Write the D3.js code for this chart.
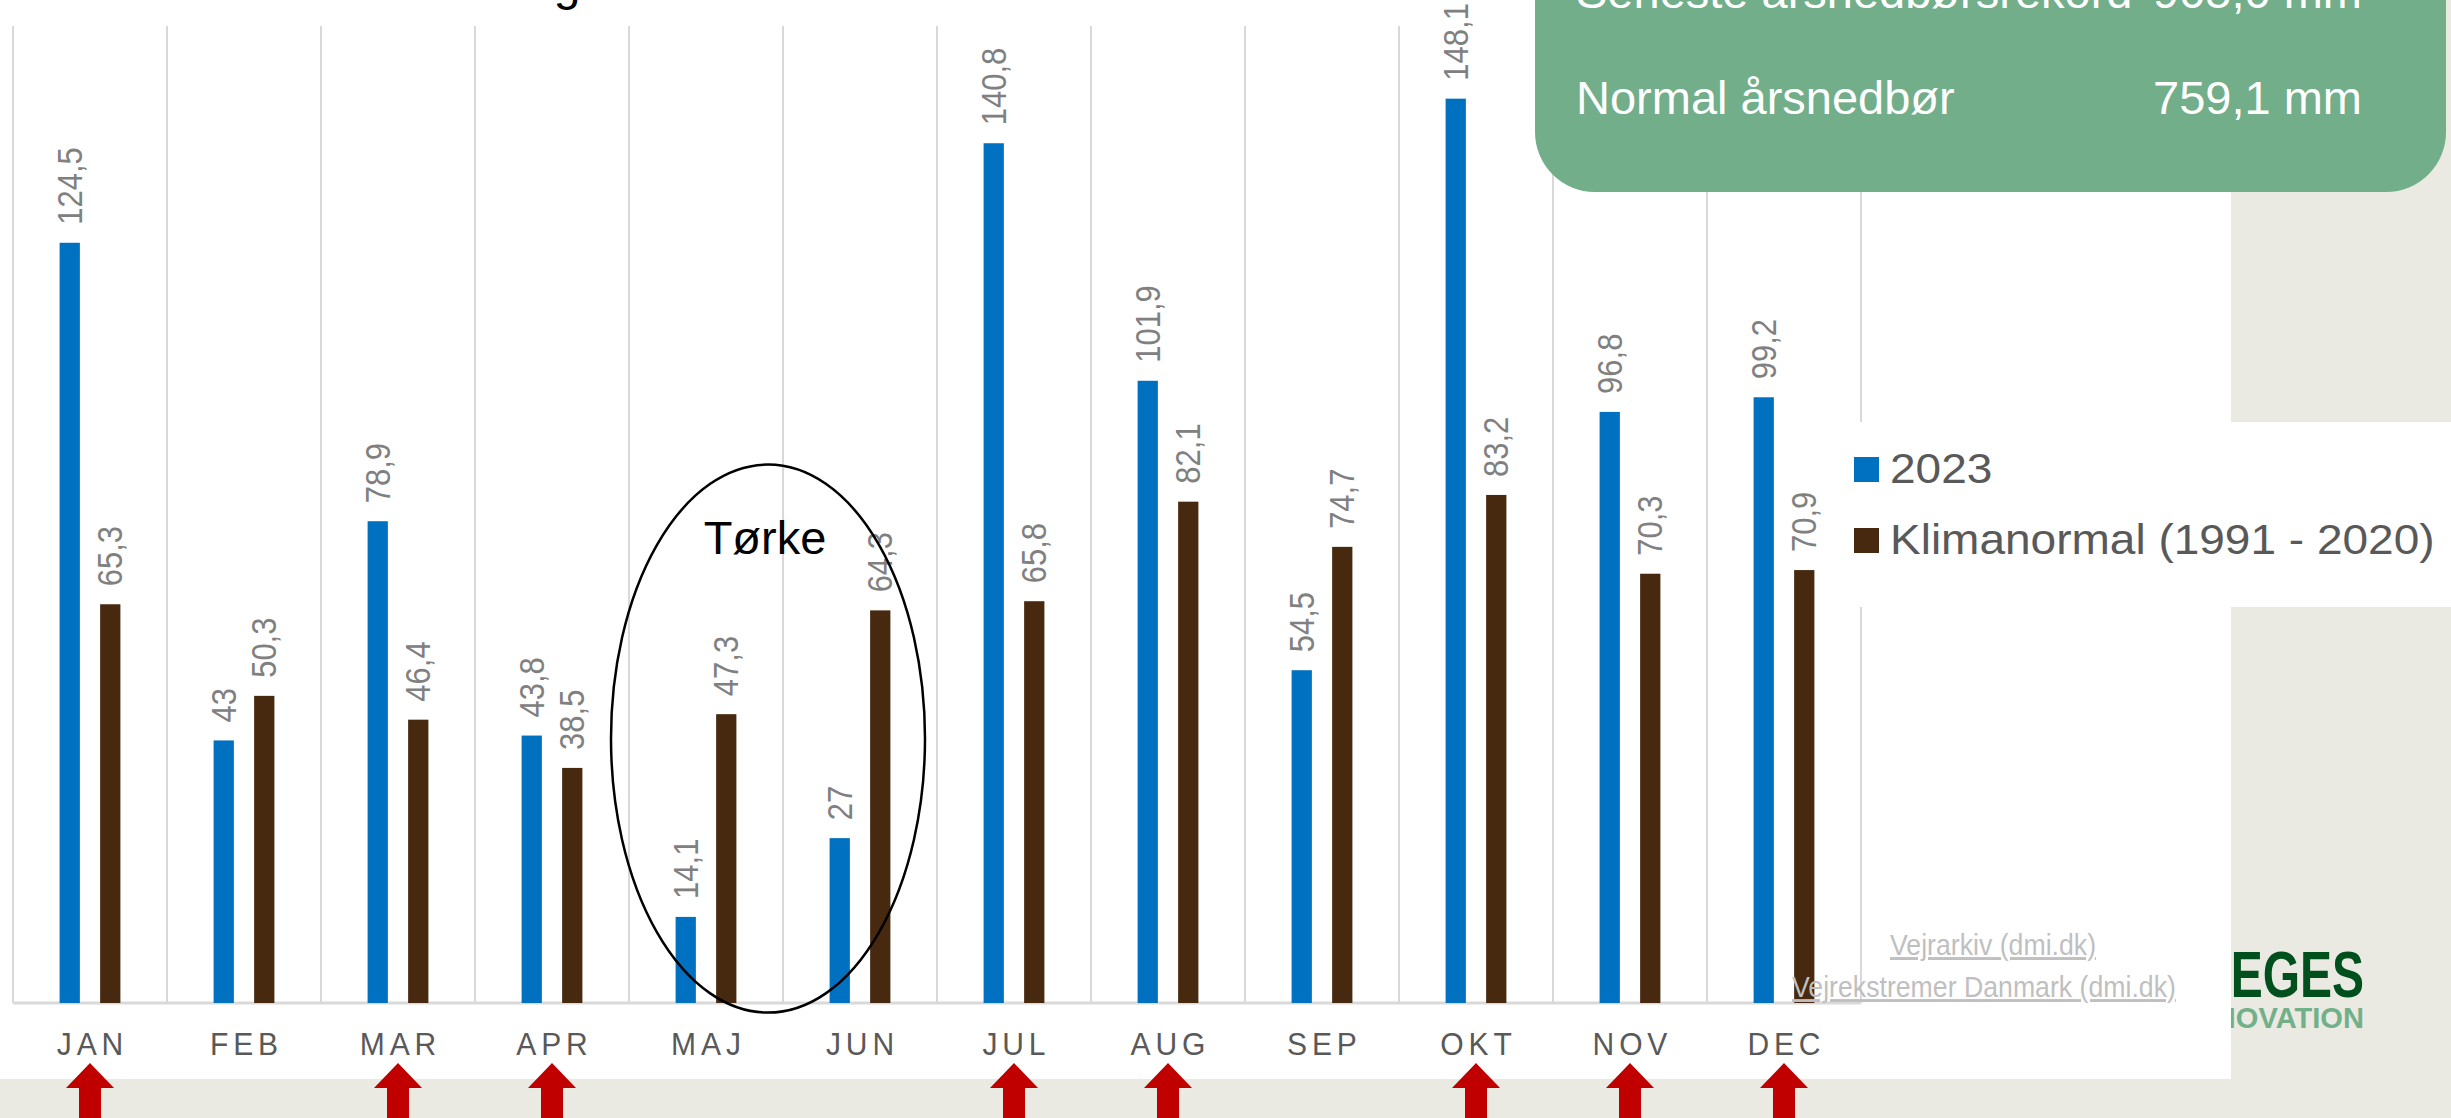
<!DOCTYPE html>
<html>
<head>
<meta charset="utf-8">
<script src="https://cdn.jsdelivr.net/npm/d3@7"></script>
<style>
  html, body { margin: 0; padding: 0; background: #EAE9E2; overflow: hidden; }
  svg { display: block; font-family: "Liberation Sans", Arial, sans-serif; }
</style>
</head>
<body>
<svg id="chart" width="2451" height="1118"></svg>
<script>
// ---------- data ----------
const months = ["JAN","FEB","MAR","APR","MAJ","JUN","JUL","AUG","SEP","OKT","NOV","DEC"];
const seriesNames = ["2023", "Klimanormal (1991 - 2020)"];
const values2023 = [124.5, 43, 78.9, 43.8, 14.1, 27, 140.8, 101.9, 54.5, 148.1, 96.8, 99.2];
const valuesNormal = [65.3, 50.3, 46.4, 38.5, 47.3, 64.3, 65.8, 82.1, 74.7, 83.2, 70.3, 70.9];
const seriesColors = ["#0070C0", "#47290F"];
const infoLabels = ["Seneste årsnedbørsrekord", "Normal årsnedbør"];
const infoValues = ["905,0 mm", "759,1 mm"];
const linkTexts = ["Vejrarkiv (dmi.dk)", "Vejrekstremer Danmark (dmi.dk)"];
const droughtMonths = ["MAJ", "JUN"];
const annotationText = "Tørke";

// ---------- setup ----------
const W = 2451, H = 1118;
const svg = d3.select("#chart");
const fmt = v => String(v).replace(".", ",");

// background
svg.append("rect").attr("width", W).attr("height", H).attr("fill", "#EAE9E2");

// logo (partly hidden behind the white panel)
const logo = svg.append("g");
logo.append("text").attr("transform", "translate(2364,997) scale(0.75,1)")
  .attr("text-anchor", "end").attr("font-size", 64).attr("font-weight", "bold")
  .attr("fill", "#00501E").text("SEGES");
logo.append("text").attr("transform", "translate(2364,1028) scale(0.97,1)")
  .attr("text-anchor", "end").attr("font-size", 30).attr("font-weight", "bold")
  .attr("fill", "#72B08A").text("INNOVATION");

// white panel
svg.append("rect").attr("x", 0).attr("y", 0).attr("width", 2231).attr("height", 1079).attr("fill", "#ffffff");

// scales
const x = d3.scaleBand().domain(months).range([13, 1861]).padding(0);
const x1 = d3.scaleBand().domain(seriesNames).range([0, x.bandwidth()]).paddingInner(0.5).paddingOuter(1.15);
const y = d3.scaleLinear().domain([0, 160]).range([1003, 26]);

// gridlines at category boundaries
const bounds = months.map(m => x(m)).concat([x(months[months.length - 1]) + x.bandwidth()]);
svg.append("g").selectAll("line").data(bounds).join("line")
  .attr("x1", d => d).attr("x2", d => d)
  .attr("y1", y.range()[1]).attr("y2", y(0))
  .attr("stroke", "#D9D9D9").attr("stroke-width", 2);

// baseline
svg.append("line").attr("x1", x.range()[0]).attr("x2", x.range()[1])
  .attr("y1", y(0)).attr("y2", y(0)).attr("stroke", "#D9D9D9").attr("stroke-width", 3);

// bars
const rows = months.map((m, i) => ({ m, vals: [values2023[i], valuesNormal[i]] }));
const groups = svg.append("g").selectAll("g").data(rows).join("g")
  .attr("transform", d => `translate(${x(d.m)},0)`);
groups.selectAll("rect").data(d => d.vals.map((v, k) => ({ v, k }))).join("rect")
  .attr("x", d => x1(seriesNames[d.k]))
  .attr("width", x1.bandwidth())
  .attr("y", d => y(d.v))
  .attr("height", d => y(0) - y(d.v))
  .attr("fill", d => seriesColors[d.k]);

// value labels (rotated)
groups.selectAll("text").data(d => d.vals.map((v, k) => ({ v, k }))).join("text")
  .attr("transform", d => `translate(${x1(seriesNames[d.k]) + x1.bandwidth() / 2},${y(d.v) - 18}) rotate(-90) scale(1,1.13)`)
  .attr("dominant-baseline", "central")
  .attr("font-size", 31).attr("fill", "#808080")
  .text(d => fmt(d.v));

// category axis
const xAxis = d3.axisBottom(x).tickSize(0).tickPadding(0);
const ax = svg.append("g").attr("transform", `translate(0,${y(0)})`).call(xAxis);
ax.select(".domain").remove();
ax.selectAll(".tick text")
  .attr("y", 52).attr("dy", 0).attr("dx", 2.5)
  .attr("transform", "scale(0.97,1)")
  .attr("letter-spacing", 5)
  .attr("font-size", 31).attr("font-family", "Liberation Sans, Arial, sans-serif")
  .attr("fill", "#595959");

// drought ellipse + label
const dx0 = x(droughtMonths[0]), dx1 = x(droughtMonths[1]) + x.bandwidth();
const ecx = (dx0 + dx1) / 2 - 15;
svg.append("ellipse").attr("cx", ecx).attr("cy", y(43.3)).attr("rx", (dx1 - dx0) / 2 + 3).attr("ry", 274)
  .attr("fill", "none").attr("stroke", "#000").attr("stroke-width", 2.5);
svg.append("text").attr("x", ecx - 3).attr("y", 554).attr("text-anchor", "middle")
  .attr("font-size", 47).attr("fill", "#000").text(annotationText);

// title fragment (cut off at top)
svg.append("text").attr("x", 567).attr("y", 0).attr("text-anchor", "middle")
  .attr("font-size", 48).attr("fill", "#000").text("g");

// legend box
svg.append("rect").attr("x", 1858).attr("y", 422).attr("width", W - 1858).attr("height", 185).attr("fill", "#ffffff");
const leg = svg.append("g").selectAll("g").data(seriesNames).join("g")
  .attr("transform", (d, i) => `translate(1854,${457 + i * 71})`);
leg.append("rect").attr("width", 25).attr("height", 25).attr("fill", (d, i) => seriesColors[i]);
leg.append("text").attr("transform", "translate(36,26) scale(1.07,1)")
  .attr("font-size", 43).attr("fill", "#595959").text(d => d);

// links
const linkPos = [[1890, 955], [1792, 997]];
svg.append("g").selectAll("text").data(linkTexts).join("text")
  .attr("transform", (d, i) => `translate(${linkPos[i][0]},${linkPos[i][1]}) scale(0.92,1)`)
  .attr("font-size", 29).attr("fill", "#BFBFBF")
  .attr("text-decoration", "underline").text(d => d);

// info box
svg.append("rect").attr("x", 1535).attr("y", -100).attr("width", 911).attr("height", 292)
  .attr("rx", 60).attr("ry", 60).attr("fill", "#72AE8A");
const info = svg.append("g").selectAll("g").data(infoLabels).join("g")
  .attr("transform", (d, i) => `translate(0,${8 + i * 106})`);
info.append("text").attr("x", 1576).attr("font-size", 47).attr("fill", "#fff").text(d => d);
info.append("text").attr("x", 2362).attr("text-anchor", "end").attr("font-size", 47).attr("fill", "#fff")
  .text((d, i) => infoValues[i]);

// red arrows where 2023 exceeds the normal
const up = rows.filter(r => r.vals[0] > r.vals[1]);
svg.append("g").selectAll("path").data(up).join("path")
  .attr("d", d => {
    const c = x(d.m) + x.bandwidth() / 2;
    return `M${c},1063 L${c + 24},1088 L${c + 11},1088 L${c + 11},1125 L${c - 11},1125 L${c - 11},1088 L${c - 24},1088 Z`;
  })
  .attr("fill", "#C00000");
</script>
</body>
</html>
